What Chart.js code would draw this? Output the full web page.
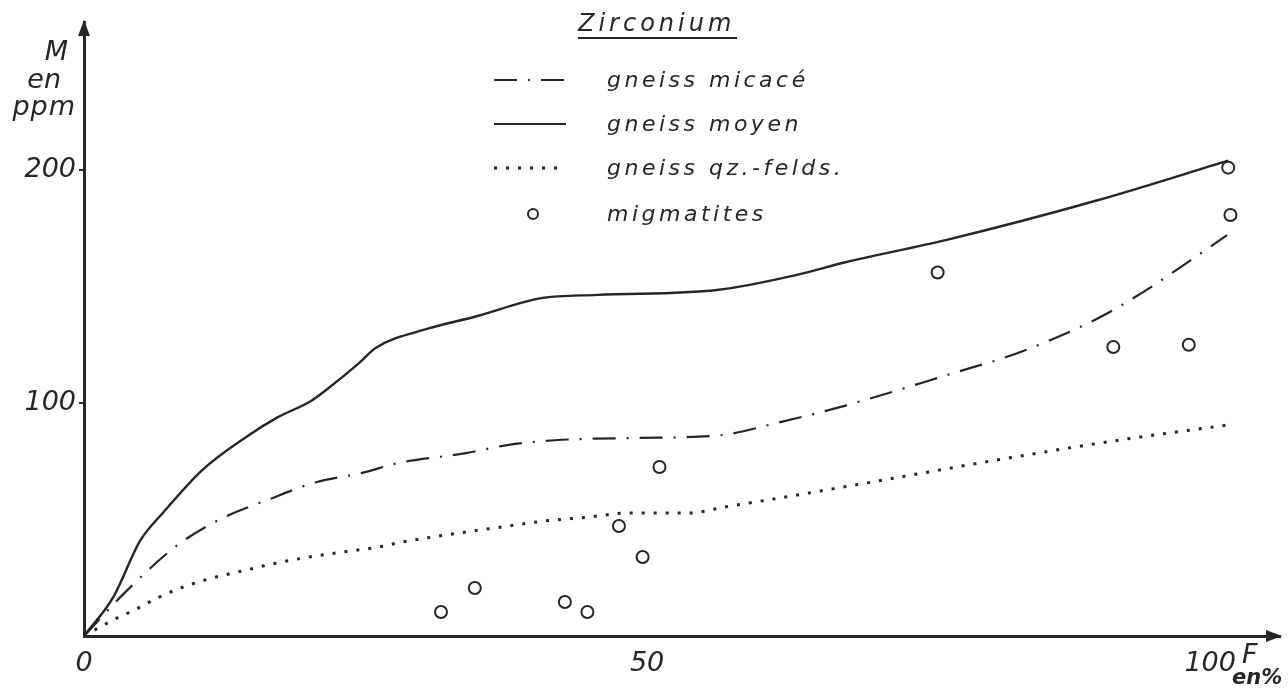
<!DOCTYPE html>
<html>
<head>
<meta charset="utf-8">
<script src="https://cdn.jsdelivr.net/npm/chart.js@4.4.1/dist/chart.umd.min.js"></script>
<style>
  html, body { margin: 0; padding: 0; background: #fff; }
</style>
</head>
<body>
<canvas id="graf" width="1288" height="689"></canvas>
<script>
// Zirconium (M en ppm) en fonction de F en %
const micaceF  = [0, 3.6, 8.3, 12.3, 16.3, 20.6, 24.7, 27.9, 33.9, 37.7, 41.8, 49, 56.2, 62, 67.7, 78, 81.9, 86.3, 90.3, 94.5, 98.7, 101.5];
const micaceM  = [0, 18.5, 39, 50.6, 58.4, 66, 70, 74.2, 78.5, 82, 84, 85, 86, 92, 99, 114, 119.7, 128, 137, 149, 162.7, 172];

const moyenF   = [0, 2.6, 5, 7, 10.5, 14.4, 17.1, 20.2, 21.5, 24.4, 25.9, 30.6, 34.7, 40.6, 45.6, 56.2, 63.3, 67.7, 76.6, 90, 101.6];
const moyenM   = [0, 16.7, 41, 52.8, 71.2, 85.4, 93.6, 101, 105.6, 117, 123.6, 132, 137, 145, 146.4, 148.5, 155, 160.5, 170, 187, 204];

const felds_F  = [0, 2.6, 4.5, 6.5, 8.8, 11.4, 14.4, 16.7, 20, 22.9, 26.2, 27.9, 33.9, 37.7, 41, 44.7, 48.5, 53.8, 56.5, 63.3, 72, 81, 92.5, 101.5];
const felds_M  = [0, 6.9, 11.2, 16.3, 21, 24.9, 28.3, 30.9, 33.9, 36, 38.2, 40, 44.6, 47.2, 49.4, 51, 52.8, 52.8, 55, 60.5, 67.8, 75.5, 84.5, 90.5];

const migmaF   = [31.7, 34.7, 42.7, 44.7, 47.5, 49.6, 51.1, 75.8, 91.4, 98.1, 101.6, 101.8];
const migmaM   = [10.3, 20.6, 14.6, 10.3, 47.2, 33.9, 72.5, 156, 124, 125, 201, 180.7];

const ticksF = [0, 50, 100];
const ticksM = [100, 200];
const legende = ['gneiss micacé', 'gneiss moyen', 'gneiss qz.-felds.', 'migmatites'];

const INK = '#262626';
const FONT = '"DejaVu Sans"';

function points(xs, ys) {
  return xs.map((x, i) => ({ x: x, y: ys[i] }));
}

const tiretPoint = [23, 11, 2, 11];
const pointille = [3, 9];

// flèches des axes, légende et inscriptions
const decor = {
  id: 'decor',
  afterDraw(chart) {
    const ctx = chart.ctx;
    const a = chart.chartArea;
    ctx.save();
    ctx.fillStyle = INK;
    ctx.strokeStyle = INK;

    // flèche verticale
    ctx.beginPath();
    ctx.moveTo(a.left, a.top - 2);
    ctx.lineTo(a.left - 6, a.top + 14);
    ctx.lineTo(a.left + 6, a.top + 14);
    ctx.closePath();
    ctx.fill();
    // flèche horizontale
    ctx.beginPath();
    ctx.moveTo(a.right + 2, a.bottom);
    ctx.lineTo(a.right - 14, a.bottom - 6);
    ctx.lineTo(a.right - 14, a.bottom + 6);
    ctx.closePath();
    ctx.fill();

    // unités
    ctx.font = 'italic 27px ' + FONT;
    ctx.textAlign = 'right';
    ctx.fillText('M', 68, 60);
    ctx.fillText('en', 61, 88);
    ctx.letterSpacing = '1px';
    ctx.fillText('ppm', 76, 115);
    ctx.letterSpacing = '0px';
    ctx.textAlign = 'left';
    ctx.fillText('F', 1242, 663);
    ctx.font = 'italic bold 21px ' + FONT;
    ctx.fillText('en%', 1232, 684);

    // titre
    ctx.font = 'italic 24px ' + FONT;
    ctx.letterSpacing = '4px';
    ctx.fillText('Zirconium', 578, 31);
    ctx.lineWidth = 2;
    ctx.beginPath();
    ctx.moveTo(578, 38);
    ctx.lineTo(737, 38);
    ctx.stroke();

    // légende
    const rows = [80, 124, 168, 214];
    const styles = [tiretPoint, [], pointille];
    ctx.font = 'italic 22px ' + FONT;
    ctx.letterSpacing = '3.5px';
    rows.forEach((y, i) => {
      if (i < 3) {
        ctx.lineWidth = i === 2 ? 3 : 2.2;
        ctx.setLineDash(styles[i]);
        ctx.beginPath();
        ctx.moveTo(494, y);
        ctx.lineTo(566, y);
        ctx.stroke();
        ctx.setLineDash([]);
      } else {
        ctx.lineWidth = 2;
        ctx.fillStyle = '#fff';
        ctx.beginPath();
        ctx.arc(533, y, 5, 0, Math.PI * 2);
        ctx.fill();
        ctx.stroke();
        ctx.fillStyle = INK;
      }
      ctx.fillText(legende[i], 607, y + 7);
    });
    ctx.restore();
  }
};

new Chart(document.getElementById('graf'), {
  type: 'line',
  data: {
    datasets: [
      {
        label: legende[0],
        data: points(micaceF, micaceM),
        borderColor: INK,
        borderWidth: 2.2,
        borderDash: tiretPoint,
        pointRadius: 0,
        cubicInterpolationMode: 'monotone',
        fill: false
      },
      {
        label: legende[1],
        data: points(moyenF, moyenM),
        borderColor: INK,
        borderWidth: 2.4,
        pointRadius: 0,
        cubicInterpolationMode: 'monotone',
        fill: false
      },
      {
        label: legende[2],
        data: points(felds_F, felds_M),
        borderColor: INK,
        borderWidth: 3,
        borderDash: pointille,
        pointRadius: 0,
        cubicInterpolationMode: 'monotone',
        fill: false
      },
      {
        label: legende[3],
        data: points(migmaF, migmaM),
        showLine: false,
        pointStyle: 'circle',
        pointRadius: 6,
        pointBorderWidth: 2,
        pointBorderColor: INK,
        pointBackgroundColor: '#fff'
      }
    ]
  },
  options: {
    responsive: false,
    animation: false,
    layout: { padding: { top: 22, right: 3, left: 0, bottom: 0 } },
    plugins: {
      legend: { display: false },
      tooltip: { enabled: false }
    },
    scales: {
      x: {
        type: 'linear',
        min: 0,
        max: 106.2,
        afterBuildTicks: s => { s.ticks = ticksF.map(v => ({ value: v })); },
        afterFit: s => { s.height = 53; },
        border: { display: true, color: INK, width: 3 },
        grid: { display: false },
        ticks: {
          padding: 4,
          maxRotation: 0,
          color: INK,
          font: { family: 'DejaVu Sans', size: 27, style: 'italic' }
        }
      },
      y: {
        type: 'linear',
        min: 0,
        max: 263.5,
        afterBuildTicks: s => { s.ticks = ticksM.map(v => ({ value: v })); },
        afterFit: s => { s.width = 84; },
        border: { display: true, color: INK, width: 3 },
        grid: { drawOnChartArea: false, drawTicks: true, tickLength: 5, color: INK, lineWidth: 2 },
        ticks: {
          padding: 3,
          color: INK,
          font: { family: 'DejaVu Sans', size: 27, style: 'italic' }
        }
      }
    }
  },
  plugins: [decor]
});
</script>
</body>
</html>
